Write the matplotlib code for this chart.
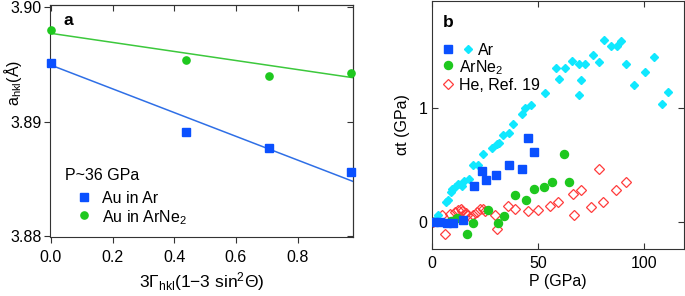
import matplotlib
matplotlib.use("Agg")
import matplotlib.pyplot as plt
import numpy as np

plt.rcParams['font.family'] = ['Liberation Sans', 'DejaVu Sans']
plt.rcParams['mathtext.fontset'] = 'custom'
plt.rcParams['mathtext.rm'] = 'Liberation Sans'
plt.rcParams['mathtext.it'] = 'Liberation Sans:italic'
plt.rcParams['mathtext.bf'] = 'Liberation Sans:bold'
FS = 11.5

# ---------------- panel a data ----------------
a_x = [0.0, 0.437, 0.708, 0.975]
a_ar = [3.89509, 3.88906, 3.88770, 3.88558]
a_arne2 = [3.89804, 3.89537, 3.89402, 3.89422]
fit_ar = (3.89494, -0.01038)      # intercept, slope
fit_arne2 = (3.89772, -0.00396)
fit_x = [0.0, 0.98]

# ---------------- panel b data ----------------
ar_sq_P = [1.0, 4.0, 7.0, 10.0, 14.6, 19.9, 23.6, 25.5, 30.4, 36.5, 42.5, 45.1, 48.1]
ar_sq_t = [0.0, 0.0, -0.005, -0.005, 0.02, 0.32, 0.45, 0.37, 0.415, 0.50, 0.47, 0.74, 0.62]

ar_cy_P = [1.6, 2.8, 6.5, 7.5, 8.9, 9.4, 10.95, 12.5, 14.1, 15.2, 17.7, 19.6, 21.9, 24.3,
           28.2, 30.9, 31.8, 33.7, 36.3, 38.4, 42.3, 44.0, 46.8, 53.4, 58.4, 59.7, 62.8,
           66.1, 69.3, 69.3, 70.3, 72.2, 76.0, 78.5, 81.1, 84.4, 87.1, 89.0, 91.3, 95.1,
           100.3, 104.7, 108.4, 111.2]
ar_cy_t = [0.02, 0.06, 0.18, 0.195, 0.27, 0.29, 0.31, 0.34, 0.32, 0.36, 0.38, 0.50, 0.50, 0.60,
           0.65, 0.69, 0.70, 0.77, 0.78, 0.86, 0.95, 1.005, 1.03, 1.13, 1.35, 1.26, 1.35,
           1.415, 1.39, 1.12, 1.25, 1.39, 1.47, 1.41, 1.60, 1.55, 1.55, 1.59, 1.39, 1.20,
           1.32, 1.45, 1.04, 1.14]

arne2_P = [8.9, 12.0, 16.4, 19.3, 26.6, 31.0, 34.0, 39.2, 44.3, 48.1, 52.8, 56.4, 62.2, 64.7]
arne2_t = [0.01, 0.035, -0.105, -0.005, 0.11, -0.01, 0.055, 0.24, 0.20, 0.29, 0.31, 0.35, 0.60, 0.355]

he_P = [0.5, 4.7, 6.3, 8.6, 11.0, 12.5, 13.6, 14.1, 16.1, 16.7, 18.0, 19.3, 21.2, 22.7,
        24.0, 25.1, 29.8, 30.7, 36.0, 39.3, 45.1, 50.1, 55.5, 59.2, 66.2, 66.9, 70.3,
        74.7, 78.6, 80.5, 86.6, 91.3]
he_t = [0.0, 0.064, -0.105, 0.073, 0.093, 0.108, 0.12, 0.10, 0.08, 0.064, 0.05, 0.06, 0.09, 0.12,
        0.12, 0.10, 0.064, -0.06, 0.14, 0.12, 0.10, 0.11, 0.14, 0.175, 0.25, 0.06, 0.28,
        0.13, 0.47, 0.175, 0.28, 0.355]

C_BLUE = '#0a50ff'
C_BLUE_LINE = '#2f6fe6'
C_GREEN = '#1ec81e'
C_GREEN_LINE = '#3cc83c'
C_CYAN = '#10e8ff'
C_RED = '#ff3c3c'
SP = '#333333'

fig = plt.figure(figsize=(6.85, 2.96), dpi=100)

# ---------------- panel a ----------------
axa = fig.add_axes([0.073, 0.1993, 0.4423, 0.7838])
fx = np.array(fit_x)
axa.plot(fx, fit_ar[0] + fit_ar[1] * fx, color=C_BLUE_LINE, lw=1.1, clip_on=False)
axa.plot(fx, fit_arne2[0] + fit_arne2[1] * fx, color=C_GREEN_LINE, lw=1.1, clip_on=False)
axa.plot(a_x, a_ar, ls='none', marker='s', ms=5.2, color=C_BLUE, mec=C_BLUE, clip_on=False, zorder=5)
axa.plot(a_x, a_arne2, ls='none', marker='o', ms=5.2, color=C_GREEN, mec=C_GREEN, clip_on=False, zorder=5)
axa.set_xlim(-0.003, 0.98)
axa.set_ylim(3.8799, 3.9002)
axa.set_xticks([0.0, 0.2, 0.4, 0.6, 0.8])
axa.set_xticklabels(['0.0', '0.2', '0.4', '0.6', '0.8'])
axa.set_yticks([3.88, 3.89, 3.90])
axa.set_yticklabels(['3.88', '3.89', '3.90'])
axa.tick_params(axis='both', direction='out', length=4, width=0.8, color=SP,
                labelsize=FS, pad=2)
axa.tick_params(axis='x', pad=5)
for s in axa.spines.values():
    s.set_linewidth(0.8)
    s.set_color(SP)
sx = axa.secondary_xaxis('top')
sx.set_xticks([0.0, 0.2, 0.4, 0.6, 0.8, 1.0])
sx.tick_params(direction='in', length=4, width=0.8, color=SP, labeltop=False)
sx.spines['top'].set_linewidth(0.8)
sx.spines['top'].set_color(SP)
sy = axa.secondary_yaxis('right')
sy.set_yticks([3.88, 3.89, 3.90])
sy.tick_params(direction='in', length=4, width=0.8, color=SP, labelright=False)
sy.spines['right'].set_linewidth(0.8)
sy.spines['right'].set_color(SP)
axa.set_xlabel('3Γ$_{\\mathrm{hkl}}$(1$-$3 sin$^{2}$Θ)', fontsize=12.5, labelpad=4)
axa.text(-0.122, 0.665, 'a$_{\\mathrm{hkl}}$(Å)', transform=axa.transAxes, fontsize=FS,
         rotation=90, ha='center', va='center')
axa.text(0.045, 0.935, 'a', transform=axa.transAxes, fontsize=FS + 1, fontweight='bold',
         va='center', ha='left')
# legend (manual)
axa.text(0.0495, 0.267, 'P~36 GPa', transform=axa.transAxes, fontsize=FS,
         ha='left', va='center')
axa.plot([0.112], [0.172], transform=axa.transAxes, ls='none', marker='s', ms=5.2,
         color=C_BLUE, clip_on=False)
axa.text(0.172, 0.172, 'Au in Ar', transform=axa.transAxes, fontsize=FS,
         ha='left', va='center_baseline')
axa.plot([0.112], [0.095], transform=axa.transAxes, ls='none', marker='o', ms=5.2,
         color=C_GREEN, clip_on=False)
axa.text(0.172, 0.095, 'Au in ArNe$_2$', transform=axa.transAxes, fontsize=FS,
         ha='left', va='center_baseline')

# ---------------- panel b ----------------
axb = fig.add_axes([0.6302, 0.1588, 0.3683, 0.8378])
axb.plot(he_P, he_t, ls='none', marker='D', ms=5.3, mfc='none', mec=C_RED, mew=0.9, zorder=2)
axb.plot(ar_cy_P, ar_cy_t, ls='none', marker='D', ms=3.6, color=C_CYAN, mec=C_CYAN, zorder=3)
axb.plot(arne2_P, arne2_t, ls='none', marker='o', ms=5.8, color=C_GREEN, mec=C_GREEN, zorder=4)
axb.plot(ar_sq_P, ar_sq_t, ls='none', marker='s', ms=5.6, color=C_BLUE, mec=C_BLUE, zorder=5)
axb.set_xlim(0, 118.6)
axb.set_ylim(-0.234, 1.941)
axb.set_xticks([0, 50, 100])
axb.set_yticks([0, 1])
axb.tick_params(axis='both', direction='in', length=4, width=0.8, color=SP,
                labelsize=FS, pad=3, top=True, right=True)
axb.tick_params(axis='x', pad=5)
for s in axb.spines.values():
    s.set_linewidth(0.8)
    s.set_color(SP)
axb.set_xlabel('P (GPa)', fontsize=FS, labelpad=2)
axb.set_ylabel('αt (GPa)', fontsize=FS, labelpad=6)
axb.text(0.045, 0.915, 'b', transform=axb.transAxes, fontsize=FS + 1, fontweight='bold',
         va='center', ha='left')
# legend (manual)
axb.plot([0.066], [0.806], transform=axb.transAxes, ls='none', marker='s', ms=5.6,
         color=C_BLUE, clip_on=False)
axb.plot([0.144], [0.806], transform=axb.transAxes, ls='none', marker='D', ms=3.6,
         color=C_CYAN, clip_on=False)
axb.text(0.185, 0.806, 'Ar', transform=axb.transAxes, fontsize=FS,
         ha='left', va='center_baseline')
axb.plot([0.066], [0.742], transform=axb.transAxes, ls='none', marker='o', ms=5.8,
         color=C_GREEN, clip_on=False)
axb.text(0.109, 0.742, 'ArNe$_2$', transform=axb.transAxes, fontsize=FS,
         ha='left', va='center_baseline')
axb.plot([0.066], [0.665], transform=axb.transAxes, ls='none', marker='D', ms=5.3,
         mfc='none', mec=C_RED, mew=0.9, clip_on=False)
axb.text(0.109, 0.665, 'He, Ref. 19', transform=axb.transAxes, fontsize=FS,
         ha='left', va='center_baseline')

fig.savefig('out.png', dpi=100)
